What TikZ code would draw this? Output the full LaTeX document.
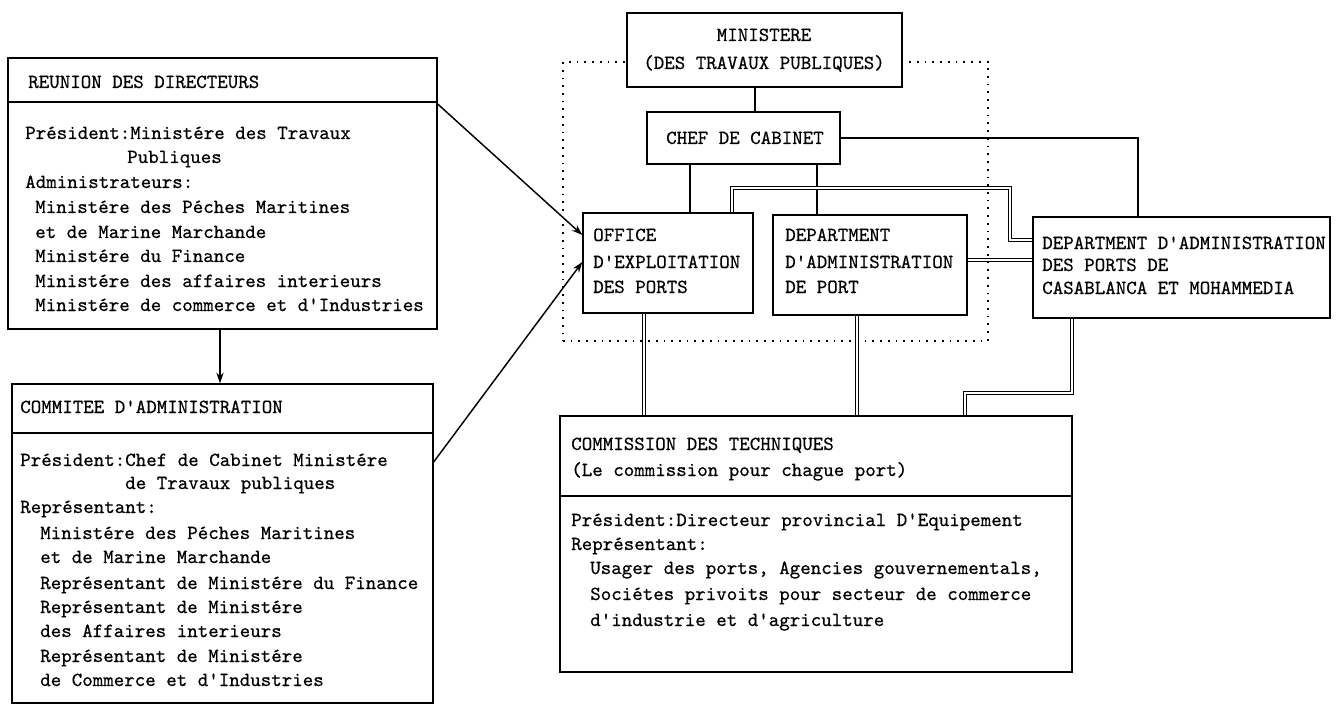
\documentclass[tikz,border=0pt]{standalone}
\usepackage{fontspec}
\newfontfamily\dmfont{lmmono10-regular.otf}[FakeBold=0.5]
\usetikzlibrary{fit,arrows.meta}
\tikzset{
  box/.style={draw, line width=1pt, fill=white, inner sep=0pt},
  txt/.style={inner sep=0pt, anchor=base west, font=\dmfont\fontsize{15}{18}\selectfont},
  ctxt/.style={inner sep=0pt, anchor=base, font=\dmfont\fontsize{15}{18}\selectfont},
  conn/.style={line width=1.3pt},
  dbl/.style={double, line width=0.8pt, double distance=1.3pt},
  arr/.style={line width=1.1pt, -{Stealth[length=8pt,width=5.5pt]}},
  sepline/.style={line width=1pt},
  dotbox/.style={draw, line width=1.3pt, dash pattern=on 1.3pt off 4.5pt, inner sep=0pt}
}
\begin{document}
\begin{tikzpicture}[x=0.75pt,y=-0.75pt]
\useasboundingbox[fill=white] (0,0) rectangle (1336,706);

% dotted group
\node[dotbox, fit={(563,62) (988,341)}] (grp) {};

% boxes
\node[box, fit={(8,58) (437,329)}] (reunion) {};
\node[box, fit={(12,384) (433,703)}] (comite) {};
\node[box, fit={(627,13) (902,87)}] (min) {};
\node[box, fit={(647,112) (840,164)}] (chef) {};
\node[box, fit={(583,213) (753,313)}] (office) {};
\node[box, fit={(773,215) (967,315)}] (dept) {};
\node[box, fit={(1033,217) (1330,318)}] (right) {};
\node[box, fit={(560,416) (1072,672)}] (comm) {};

% separators
\draw[sepline] (reunion.west |- 0,102) -- (reunion.east |- 0,102);
\draw[sepline] (comite.west |- 0,433) -- (comite.east |- 0,433);
\draw[sepline] (comm.west |- 0,496) -- (comm.east |- 0,496);

% texts: reunion
\node[txt] (r0) at (28,88) {REUNION DES DIRECTEURS};
\node[txt] (r1) at (25,139) {Président:Ministére des Travaux};
\node[txt] (r2) at (127,163) {Publiques};
\node[txt] (r3) at (25,188) {Administrateurs:};
\node[txt] (r4) at (35,213) {Ministére des Péches Maritines};
\node[txt] (r5) at (35,238) {et de Marine Marchande};
\node[txt] (r6) at (35,262) {Ministére du Finance};
\node[txt] (r7) at (35,287) {Ministére des affaires interieurs};
\node[txt] (r8) at (35,311) {Ministére de commerce et d'Industries};

% texts: comite
\node[txt] (c0) at (20,413) {COMMITEE D'ADMINISTRATION};
\node[txt] (c1) at (20,466) {Président:Chef de Cabinet Ministére};
\node[txt] (c2) at (125,489) {de Travaux publiques};
\node[txt] (c3) at (20,513) {Représentant:};
\node[txt] (c4) at (40,539) {Ministére des Péches Maritines};
\node[txt] (c5) at (40,563) {et de Marine Marchande};
\node[txt] (c6) at (40,589) {Représentant de Ministére du Finance};
\node[txt] (c7) at (40,613) {Représentant de Ministére};
\node[txt] (c8) at (40,637) {des Affaires interieurs};
\node[txt] (c9) at (40,662) {Représentant de Ministére};
\node[txt] (c10) at (40,686) {de Commerce et d'Industries};

% texts: right side
\node[ctxt] (m1) at (764,41) {MINISTERE};
\node[ctxt] (m2) at (764,69) {(DES TRAVAUX PUBLIQUES)};
\node[ctxt] (ch1) at (745,144) {CHEF DE CABINET};

\node[txt] (o1) at (593,241) {OFFICE};
\node[txt] (o2) at (593,268) {D'EXPLOITATION};
\node[txt] (o3) at (593,293) {DES PORTS};

\node[txt] (d1) at (785,241) {DEPARTMENT};
\node[txt] (d2) at (785,268) {D'ADMINISTRATION};
\node[txt] (d3) at (785,293) {DE PORT};

\node[txt] (rt1) at (1042,249) {DEPARTMENT D'ADMINISTRATION};
\node[txt] (rt2) at (1042,271) {DES PORTS DE};
\node[txt] (rt3) at (1042,294) {CASABLANCA ET MOHAMMEDIA};

\node[txt] (k1) at (571,450) {COMMISSION DES TECHNIQUES};
\node[txt] (k2) at (571,476) {(Le commission pour chague port)};
\node[txt] (k3) at (571,526) {Président:Directeur provincial D'Equipement};
\node[txt] (k4) at (571,550) {Représentant:};
\node[txt] (k5) at (590,574) {Usager des ports, Agencies gouvernementals,};
\node[txt] (k6) at (590,600) {Sociétes privoits pour secteur de commerce};
\node[txt] (k7) at (590,626) {d'industrie et d'agriculture};

% connectors
\draw[conn] (755,0 |- min.south) -- (755,0 |- chef.north);
\draw[conn] (690,0 |- chef.south) -- (690,0 |- office.north);
\draw[conn] (817,0 |- chef.south) -- (817,0 |- dept.north);
\draw[conn] (chef.east) -| (1138,0 |- right.north);

\draw[dbl] (732,0 |- office.north) |- (1010,188) |- (right.west |- 0,240);
\draw[dbl] (dept.east |- 0,260) -- (right.west |- 0,260);
\draw[dbl] (644,0 |- office.south) -- (644,0 |- comm.north);
\draw[dbl] (857,0 |- dept.south) -- (857,0 |- comm.north);
\draw[dbl] (1072,0 |- right.south) |- (965,393) -- (965,0 |- comm.north);

% arrows
\draw[arr] (reunion.east |- 0,104) -- (office.west |- 0,235);
\draw[arr] (comite.east |- 0,462) -- (office.west |- 0,262);
\draw[arr] (220,0 |- reunion.south) -- (220,0 |- comite.north);
\end{tikzpicture}
\end{document}
